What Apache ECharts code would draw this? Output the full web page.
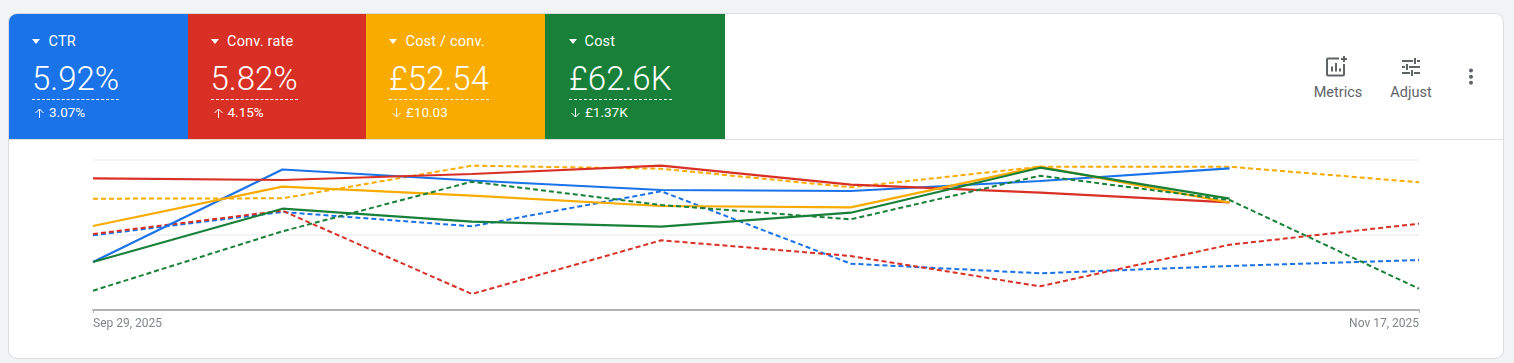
<!DOCTYPE html>
<html>
<head>
<meta charset="utf-8">
<script src="https://cdn.jsdelivr.net/npm/echarts@6/dist/echarts.min.js"></script>
<style>
html, body { margin: 0; padding: 0; width: 1514px; height: 363px; overflow: hidden; background: #f1f3f4; font-family: Roboto, sans-serif; }
.card { position: absolute; left: 9px; top: 14px; width: 1494px; height: 344px; background: #fff; box-shadow: 0 0 0 1px #dadce0; border-radius: 8px; overflow: hidden; }
.head { position: absolute; left: 0; top: 0; width: 1494px; height: 125px; border-bottom: 1px solid #e0e0e0; }
.tab { position: absolute; top: 0; height: 125px; color: #fff; }
.tab .name { position: absolute; left: 39.5px; top: 19px; font-size: 14.5px; letter-spacing: .2px; line-height: 17px; white-space: nowrap; }
.tab .caret { position: absolute; left: 23px; top: 25px; width: 0; height: 0; border-left: 4.5px solid transparent; border-right: 4.5px solid transparent; border-top: 5px solid #fff; }
.tab .val { position: absolute; left: 23px; top: 46px; font-size: 33px; font-weight: 300; line-height: 38px; padding-bottom: 1px; border-bottom: 1px dashed #fff; white-space: nowrap; }
.tab .sub { position: absolute; left: 40px; top: 90px; font-size: 13.5px; line-height: 16px; white-space: nowrap; }
.tab svg { position: absolute; left: 25px; top: 93px; }
.tab:nth-child(4) .val, .tab:nth-child(4) .caret { margin-left: 1px; }
.tool { position: absolute; top: 41px; width: 70px; text-align: center; color: #5f6368; font-size: 14.5px; }
.tool svg { display: block; margin: 0 auto 5px; }
#chart { position: absolute; left: 0; top: 126px; width: 1494px; height: 218px; }
</style>
</head>
<body>
<div class="card">
  <div class="head" id="head">
    <div class="tool" style="left:1294px">
      <svg style="margin-left:21px" width="24" height="24" viewBox="0 0 24 24" fill="none" stroke="#5f6368" stroke-width="2"><path d="M15 3.5H4a1 1 0 0 0-1 1v15a1 1 0 0 0 1 1h15a1 1 0 0 0 1-1V9"/><path d="M8 16.5v-5M12 16.5V8M16 16.5v-3M20 1v6M17 4h6"/></svg>
      Metrics
    </div>
    <div class="tool" style="left:1367px">
      <svg width="24" height="24" viewBox="0 0 24 24" fill="none" stroke="#5f6368" stroke-width="2"><path d="M3 6h11M18 6h3M16 3v6M3 12h3M10 12h11M8 9v6M3 18h8M15 18h6M13 15v6"/></svg>
      Adjust
    </div>
    <svg style="position:absolute;left:1456px;top:52px" width="12" height="22" viewBox="0 0 12 22" fill="#5f6368"><circle cx="6" cy="4.5" r="2"/><circle cx="6" cy="10.7" r="2"/><circle cx="6" cy="16.7" r="2"/></svg>
  </div>
  <div id="chart"></div>
</div>
<script>
const dates = ['Sep 29, 2025', 'Oct 6, 2025', 'Oct 13, 2025', 'Oct 20, 2025', 'Oct 27, 2025', 'Nov 3, 2025', 'Nov 10, 2025', 'Nov 17, 2025']

const metricNames = ['CTR', 'Conv. rate', 'Cost / conv.', 'Cost']
const metricValues = ['5.92%', '5.82%', '£52.54', '£62.6K']
const metricChanges = ['3.07%', '4.15%', '£10.03', '£1.37K']
const metricUp = [true, true, false, false]
const colors = ['#1a73e8', '#d93025', '#f9ab00', '#188038']
const tabLeft = [0, 178.5, 357, 536]
const tabWidth = [178.5, 178.5, 179, 180]

// each metric has its own hidden scale in the original, so these are relative heights
const ctrNow = [48, 140.5, 129.5, 120, 119, 129, 141.7, null]
const convNow = [131.7, 130, 136, 144.3, 125.3, 117.3, 107.7, null]
const costConvNow = [84, 123.3, 114.3, 104, 102.7, 143.3, 107.3, null]
const costNow = [48, 101.3, 88.3, 83.3, 97.3, 142.3, 111.3, null]

const ctrPrev = [74.7, 98, 83.7, 118.7, 46.3, 36.7, 44, 50]
const convPrev = [76, 99.3, 16, 69.7, 54, 23.7, 65.3, 86.3]
const costConvPrev = [111.3, 111.7, 144.3, 141.3, 122.7, 143.3, 143.3, 127.7]
const costPrev = [19.3, 78.7, 128.3, 105, 90.7, 134.3, 110, 21.3]

document.getElementById('head').insertAdjacentHTML('afterbegin', metricNames.map((name, i) => {
    const arrow = metricUp[i] ? 'M5.5 11V2M1.5 6l4-4 4 4' : 'M5.5 1v9M1.5 6l4 4 4-4'
    return `<div class="tab" style="left:${tabLeft[i]}px;width:${tabWidth[i]}px;background:${colors[i]}">
        <span class="caret"></span><span class="name">${name}</span>
        <span class="val">${metricValues[i]}</span>
        <svg width="11" height="12" viewBox="0 0 11 12" fill="none" stroke="#fff" stroke-width="1"><path d="${arrow}"/></svg>
        <span class="sub">${metricChanges[i]}</span>
    </div>`
}).join(''))

const lineSeries = (data, color, dashed) => ({
    type: 'line',
    data,
    showSymbol: false,
    silent: true,
    lineStyle: {
        color,
        width: dashed ? 2 : 2.2,
        type: dashed ? [5, 3] : 'solid'
    }
})

const edgeOnly = (index) => index === 0 || index === dates.length - 1

const mChart = echarts.init(document.getElementById('chart'))
mChart.setOption({
    animation: false,
    grid: { left: 84, width: 1326, top: 20, height: 150 },
    xAxis: {
        type: 'category',
        data: dates,
        boundaryGap: false,
        axisLine: { lineStyle: { color: '#b3b3b3', width: 2 } },
        axisTick: { length: 3, interval: edgeOnly, lineStyle: { color: '#b3b3b3' } },
        axisLabel: {
            interval: edgeOnly,
            alignMinLabel: 'left',
            alignMaxLabel: 'right',
            color: '#80868b',
            fontFamily: 'Roboto',
            fontSize: 12,
            margin: 8
        }
    },
    yAxis: {
        type: 'value',
        min: 0,
        max: 150,
        interval: 75,
        axisLine: { show: false },
        axisTick: { show: false },
        axisLabel: { show: false },
        splitLine: { lineStyle: { color: '#f1f3f4', width: 2 } }
    },
    series: [
        lineSeries(ctrPrev, colors[0], true),
        lineSeries(convPrev, colors[1], true),
        lineSeries(costConvPrev, colors[2], true),
        lineSeries(ctrNow, colors[0], false),
        lineSeries(convNow, colors[1], false),
        lineSeries(costConvNow, colors[2], false),
        lineSeries(costNow, colors[3], false),
        lineSeries(costPrev, colors[3], true)
    ]
})
</script>
</body>
</html>
